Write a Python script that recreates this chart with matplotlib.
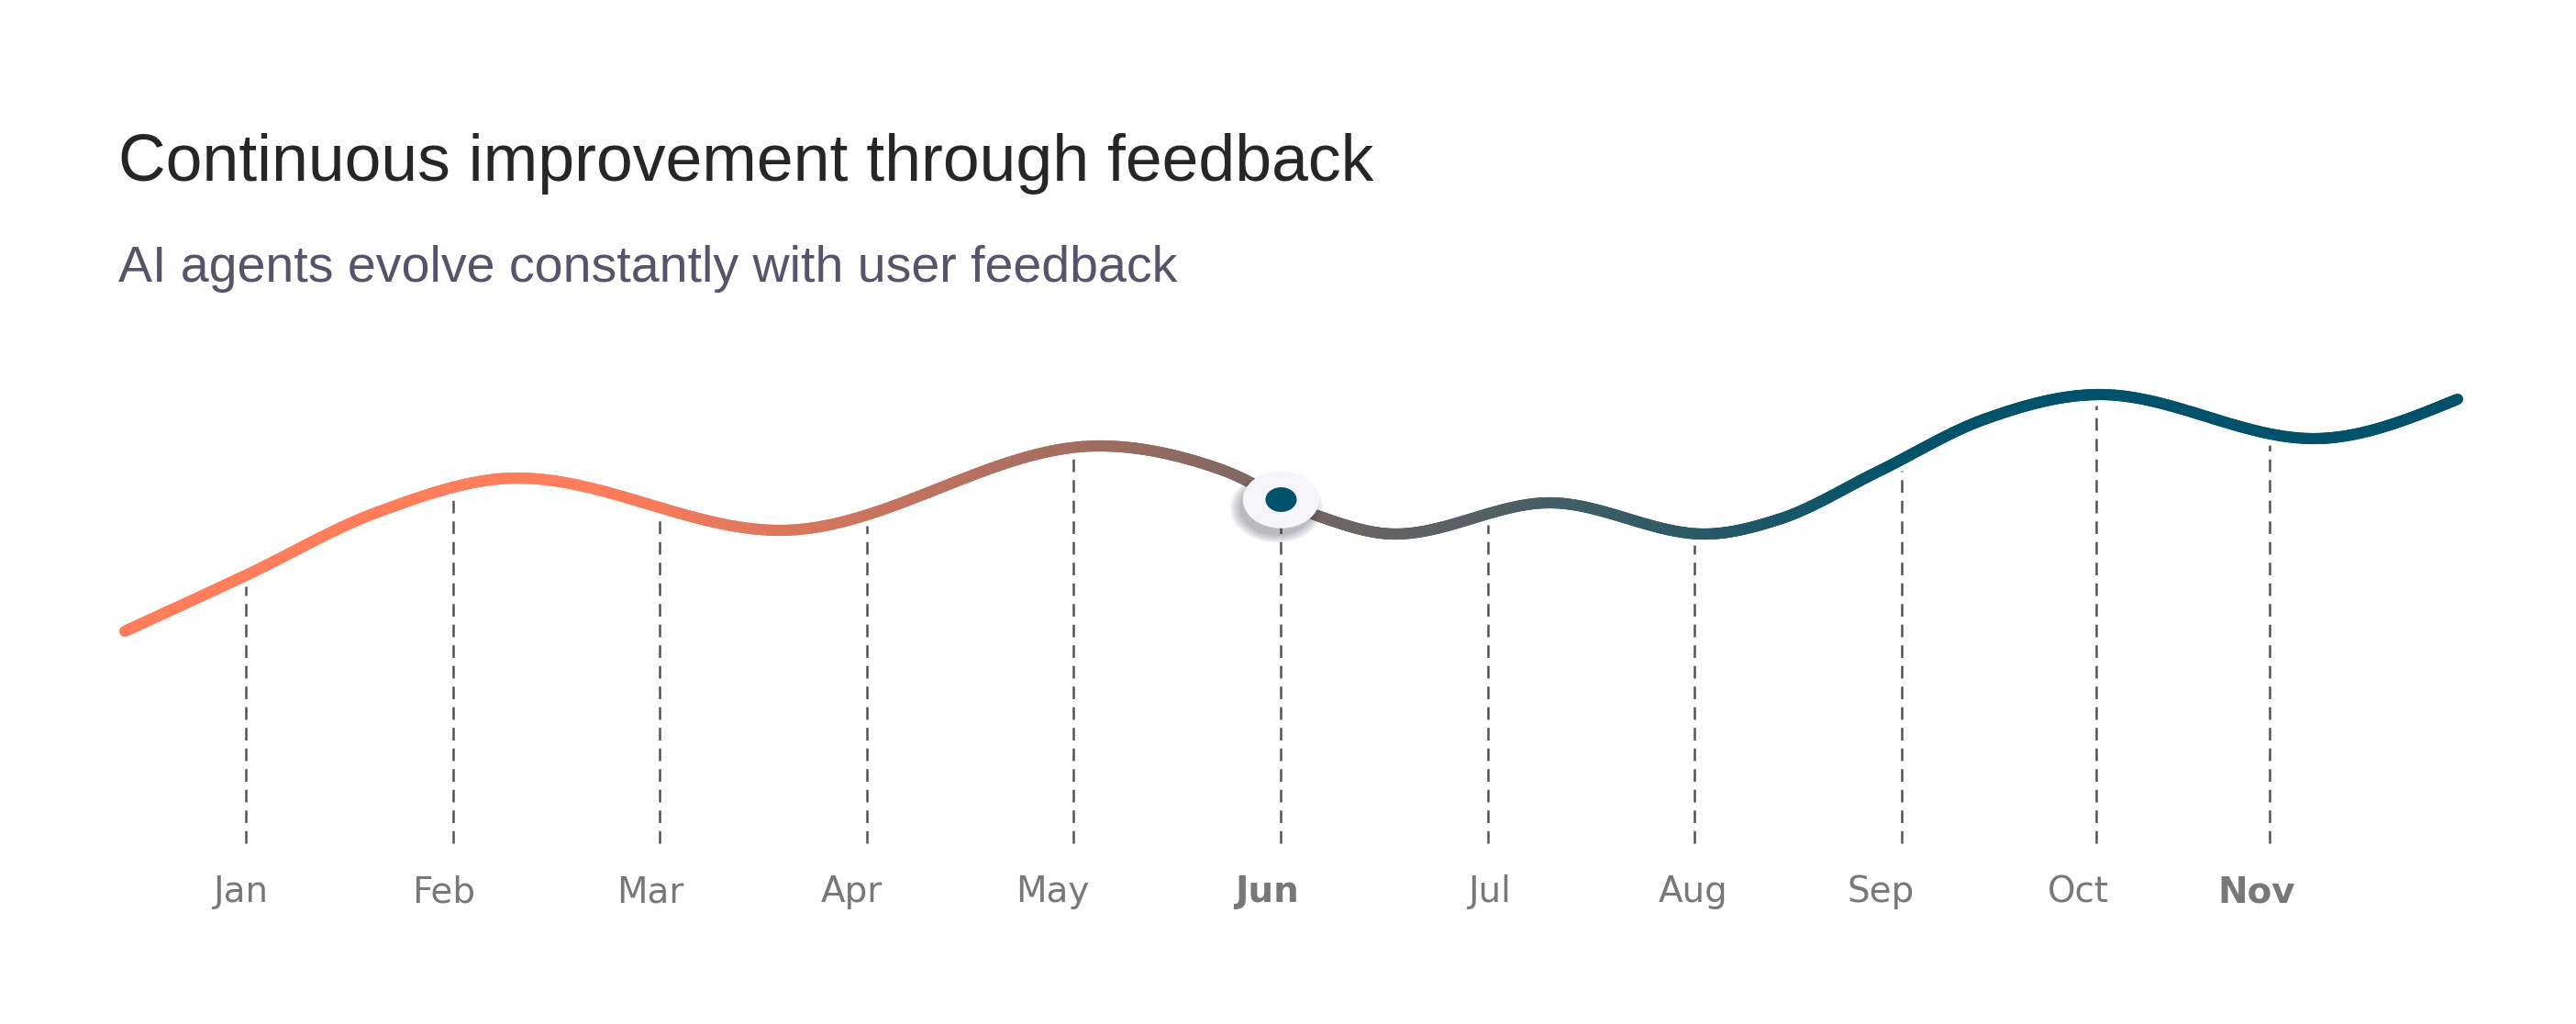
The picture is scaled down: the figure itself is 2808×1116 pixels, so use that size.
import numpy as np
import matplotlib
matplotlib.use("Agg")
import matplotlib.pyplot as plt
from matplotlib.collections import LineCollection
from matplotlib.colors import LinearSegmentedColormap, Normalize
from matplotlib.path import Path
from matplotlib import transforms

# data
months = ["Jan", "Feb", "Mar", "Apr", "May", "Jun", "Jul", "Aug", "Sep", "Oct", "Nov"]
month_pos = [0, 1, 2, 3, 4, 5, 6, 7, 8, 8.94, 9.78]
bold_months = ["Jun", "Nov"]
highlight = "Jun"

# feedback score curve
curve_x = [-0.585, 0.0, 0.638, 1.312, 2.58, 4.122, 4.716, 5.177, 5.554,
           6.299, 7.048, 7.407, 7.886, 8.4, 8.958, 9.991, 10.687]
curve_y = [46.2, 58.4, 72.2, 79.6, 68.2, 86.6, 81.4, 71.4, 67.4,
           74.2, 67.4, 70.6, 81.0, 92.4, 97.8, 88.2, 96.8]

title = "Continuous improvement through feedback"
subtitle = "AI agents evolve constantly with user feedback"

CORAL = "#FF7D5A"
TEAL = "#00526A"

# small per-label horizontal nudges (pixels), as in the picture
label_nudge = [-5, -10, -10, -16, -23, -15, 3, -2, -23, -19, -15]


def smooth_curve(xs, ys, n=60):
    # cubic hermite: flat at turning points, weighted secant slope elsewhere
    xs = np.asarray(xs, float)
    ys = np.asarray(ys, float)
    h = np.diff(xs)
    s = np.diff(ys) / h
    m = np.zeros(len(xs))
    for i in range(1, len(xs) - 1):
        if s[i - 1] * s[i] > 0:
            p = (s[i - 1] * h[i] + s[i] * h[i - 1]) / (h[i - 1] + h[i])
            lim = 3 * min(abs(s[i - 1]), abs(s[i]))
            m[i] = np.sign(p) * min(abs(p), lim)
    m[0] = (3 * s[0] - m[1]) / 2
    m[-1] = (3 * s[-1] - m[-2]) / 2
    px, py = [], []
    for i in range(len(xs) - 1):
        t = np.linspace(0, 1, n, endpoint=(i == len(xs) - 2))
        h00 = 2 * t**3 - 3 * t**2 + 1
        h10 = t**3 - 2 * t**2 + t
        h01 = -2 * t**3 + 3 * t**2
        h11 = t**3 - t**2
        px.append(xs[i] + t * h[i])
        py.append(h00 * ys[i] + h10 * h[i] * m[i] + h01 * ys[i + 1] + h11 * h[i] * m[i + 1])
    return np.concatenate(px), np.concatenate(py)


fig = plt.figure(figsize=(28.08, 11.16), dpi=100)
ax = fig.add_axes([0, 0, 1, 1])
ax.set_xlim(-1.188, 11.259)
ax.set_ylim(-39.4, 183.8)
ax.axis("off")

fx, fy = smooth_curve(curve_x, curve_y)

# dashed drop lines from the baseline up to just under the curve
tops = np.interp(month_pos, fx, fy) - 2.4
ax.vlines(month_pos, 0, tops, colors="#555254", linewidth=1.8,
          linestyles=(0, (5.5, 3.5)), zorder=1)

# gradient line
pts = np.column_stack([fx, fy]).reshape(-1, 1, 2)
segs = np.concatenate([pts[:-1], pts[1:]], axis=1)
cmap = LinearSegmentedColormap.from_list("fb", [CORAL, TEAL])
norm = Normalize(vmin=1.69, vmax=8.08)
lc = LineCollection(segs, cmap=cmap, norm=norm, linewidth=8.8,
                    capstyle="round", joinstyle="round", zorder=3)
lc.set_array((fx[:-1] + fx[1:]) / 2)
ax.add_collection(lc)

# highlighted month marker
ellipse = Path.unit_circle().transformed(transforms.Affine2D().scale(1, 0.75))
dot = Path.unit_circle().transformed(transforms.Affine2D().scale(1, 0.79))
hx = month_pos[months.index(highlight)]
hy = np.interp(hx, fx, fy)
shadow = transforms.offset_copy(ax.transData, fig=fig, x=-5, y=-9, units="dots")
for k in range(9):
    ax.plot([hx], [hy], marker=ellipse, markersize=57 + k * 2.0, color="#35354a",
            alpha=0.045, markeredgewidth=0, transform=shadow, zorder=4)
ax.plot([hx], [hy], marker=ellipse, markersize=60, color="#F6F5FA",
        markeredgewidth=0, zorder=5)
ax.plot([hx], [hy], marker=dot, markersize=24.5, color=TEAL,
        markeredgewidth=0, zorder=6)

# month labels
for m, x, dx in zip(months, month_pos, label_nudge):
    tr = transforms.offset_copy(ax.transData, fig=fig, x=dx, y=0, units="dots")
    ax.text(x, -12.8, m, ha="center", va="baseline", fontsize=28,
            family="DejaVu Sans", color="#787878", transform=tr,
            fontweight="bold" if m in bold_months else "normal")

fig.text(129 / 2808, 1 - 197 / 1116, title, fontsize=51.5,
         family="Liberation Sans", color="#262626", va="baseline")
fig.text(129 / 2808, 1 - 307 / 1116, subtitle, fontsize=40,
         family="Liberation Sans", color="#56536B", va="baseline")

fig.savefig("out.png", dpi=100, facecolor="white")
